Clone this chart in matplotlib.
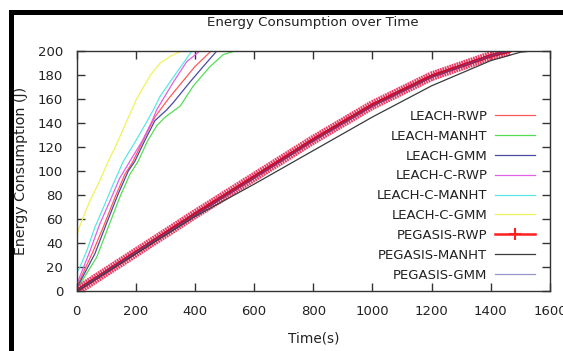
import matplotlib
matplotlib.use('Agg')
import matplotlib.pyplot as plt
import matplotlib.patheffects as pe
from matplotlib.patches import Rectangle

# LEACH curves (time s, energy J)
leach_rwp_t = [0, 56, 90, 130, 163, 191, 230, 265, 310, 350, 400, 455]
leach_rwp_e = [3, 33, 53, 78, 97, 108, 128, 145, 160, 172, 187, 200]

leach_manht_t = [0, 68, 107, 146, 180, 208, 240, 272, 300, 350, 395, 451, 496, 535]
leach_manht_e = [1, 28, 53, 78, 97, 108, 125, 138, 145, 154, 171, 187, 197, 200]

leach_gmm_t = [0, 62, 101, 141, 175, 197, 230, 265, 305, 327, 383, 428, 474]
leach_gmm_e = [2, 31, 56, 81, 100, 108, 125, 142, 151, 157, 174, 187, 200]

leachc_rwp_t = [0, 45, 79, 113, 146, 180, 222, 256, 271, 327, 372, 417]
leachc_rwp_e = [5, 33, 56, 75, 94, 108, 125, 142, 151, 174, 191, 200]

leachc_manht_t = [0, 10, 34, 62, 90, 124, 158, 200, 235, 260, 282, 338, 370, 390]
leachc_manht_e = [15, 19, 33, 53, 69, 89, 108, 125, 140, 151, 162, 182, 193, 200]

leachc_gmm_t = [0, 5, 11, 22, 45, 79, 107, 131, 167, 203, 250, 283, 320, 356]
leachc_gmm_e = [40, 50, 54, 61, 75, 92, 108, 120, 140, 160, 180, 190, 196, 200]

# PEGASIS curves
peg_rwp_t = [0, 200, 400, 600, 800, 1000, 1200, 1400, 1464]
peg_rwp_e = [0, 32, 64, 95, 126, 155, 179, 196, 200]

peg_manht_t = [0, 200, 400, 600, 800, 1000, 1200, 1400, 1500, 1540]
peg_manht_e = [0, 31, 62, 89, 117, 145, 171, 192, 199, 200]

peg_gmm_t = [0, 200, 400, 600, 800, 1000, 1200, 1400, 1460]
peg_gmm_e = [0, 32, 63, 94, 125, 154, 178, 196, 200]

fig = plt.figure(figsize=(5.63, 3.51), dpi=100)
ax = fig.add_axes([76.5 / 563, 1 - 291 / 351, 473.5 / 563, 240 / 351])

lw = 0.9
ax.plot(leach_rwp_t, leach_rwp_e, color='#ff5a5a', lw=lw, label='LEACH-RWP')
ax.plot(leach_manht_t, leach_manht_e, color='#55dd55', lw=lw, label='LEACH-MANHT')
ax.plot(leach_gmm_t, leach_gmm_e, color='#4a4aa0', lw=lw, label='LEACH-GMM')
ax.plot(leachc_rwp_t, leachc_rwp_e, color='#e060e6', lw=lw, label='LEACH-C-RWP')
ax.plot(leachc_manht_t, leachc_manht_e, color='#5ce6e6', lw=lw, label='LEACH-C-MANHT')
ax.plot(leachc_gmm_t, leachc_gmm_e, color='#f2f25a', lw=lw, label='LEACH-C-GMM')

# PEGASIS-RWP: red line with dense "+" marks -> thick hairy band
tick_fx = dict(spacing=1.8, length=1.55, linewidth=1.3, foreground='#e8406a')
ax.plot(peg_rwp_t, peg_rwp_e, color='#c8102e', lw=2.2,
        path_effects=[pe.withTickedStroke(angle=90, **tick_fx),
                      pe.withTickedStroke(angle=-90, **tick_fx),
                      pe.Normal()])
ax.plot([], [], color='#ff2020', lw=1.8, marker='+', markersize=8, markeredgewidth=1.5,
        label='PEGASIS-RWP')
ax.plot(peg_manht_t, peg_manht_e, color='#3a3a3a', lw=lw, label='PEGASIS-MANHT')
ax.plot(peg_gmm_t, peg_gmm_e, color='#5050a8', lw=lw, alpha=0.6, label='PEGASIS-GMM')

ax.set_xlim(0, 1600)
ax.set_ylim(0, 200)
ax.set_xticks(range(0, 1601, 200))
ax.set_yticks(range(0, 201, 20))
ax.tick_params(direction='in', length=6, width=1, top=True, right=True,
               labelsize=9.5, color='#333333', labelcolor='#222222')
ax.tick_params(axis='x', pad=10)
ax.tick_params(axis='y', pad=9.5)
for s in ax.spines.values():
    s.set_color('#333333')
    s.set_linewidth(1)

ax.set_title('Energy Consumption over Time', fontsize=9.6, pad=18, color='#222222')
ax.set_xlabel('Time(s)', fontsize=9.8, color='#222222')
ax.set_ylabel('Energy Consumption (J)', fontsize=10.3, color='#222222')
ax.xaxis.set_label_coords(0.5, -0.17)
ax.yaxis.set_label_coords(-0.103, 0.5)

# legend with sample lines on the right
handles, labels = ax.get_legend_handles_labels()
leg = ax.legend(handles, labels, loc='upper right', bbox_to_anchor=(0.968, 0.755),
                frameon=False, markerfirst=False, fontsize=9.5, handlelength=3.0,
                handletextpad=0.6, labelspacing=0.52, borderpad=0, borderaxespad=0)
for t in leg.get_texts():
    t.set_color('#222222')

# black frame around the picture
fig.patches.append(Rectangle((10.5 / 563, -0.2), 1.5, 1.2 - 11.5 / 351,
                             transform=fig.transFigure, fill=False,
                             edgecolor='black', lw=3.6))

plt.savefig('out.png', dpi=100)
